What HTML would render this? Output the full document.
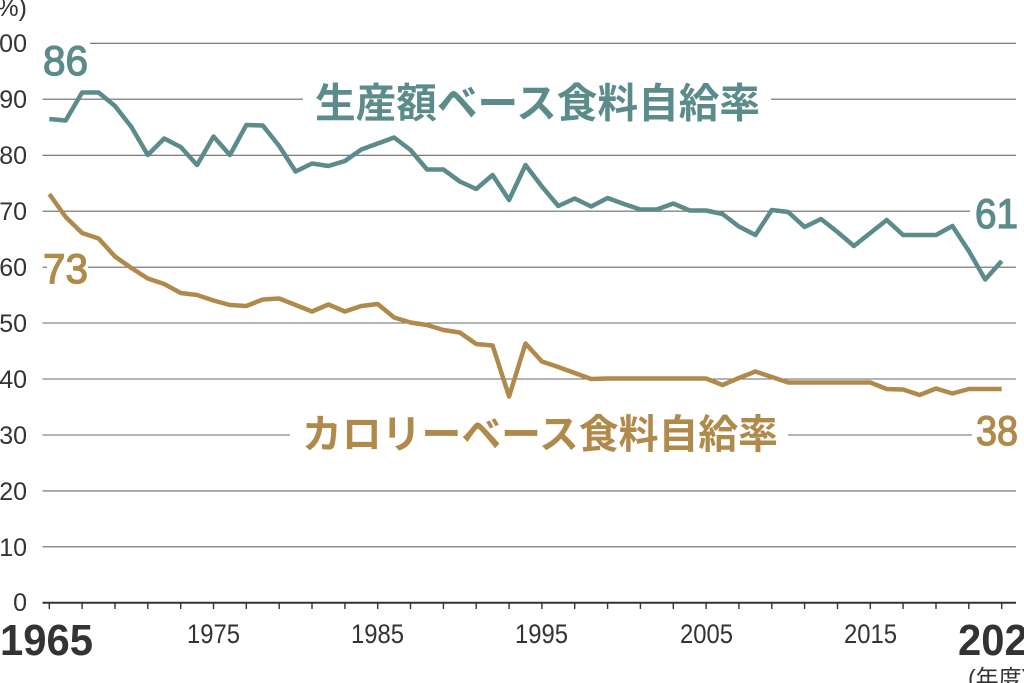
<!DOCTYPE html>
<html>
<head>
<meta charset="utf-8">
<style>
  html, body { margin:0; padding:0; background:#fff; }
  body { width:1024px; height:683px; overflow:hidden; }
  svg { display:block; }
  text { font-family: "Liberation Sans", "Noto Sans CJK JP", sans-serif; }
</style>
</head>
<body>
<svg width="1024" height="683" viewBox="0 0 1024 683" xmlns="http://www.w3.org/2000/svg">
  <rect width="1024" height="683" fill="#fff"/>
  <!-- gridlines -->
  <g stroke="#6a6a6a" stroke-width="1.1" fill="none">
    <line x1="90" y1="43.3" x2="1016" y2="43.3"/>
    <line x1="42.5" y1="99.2" x2="303" y2="99.2"/>
    <line x1="771" y1="99.2" x2="1016" y2="99.2"/>
    <line x1="42.5" y1="155.3" x2="1016" y2="155.3"/>
    <line x1="42.5" y1="211.2" x2="970" y2="211.2"/>
    <line x1="42.5" y1="267.2" x2="47" y2="267.2"/>
    <line x1="88" y1="267.2" x2="1016" y2="267.2"/>
    <line x1="42.5" y1="323" x2="1016" y2="323"/>
    <line x1="42.5" y1="379" x2="1016" y2="379"/>
    <line x1="42.5" y1="435" x2="290" y2="435"/>
    <line x1="788" y1="435" x2="972" y2="435"/>
    <line x1="42.5" y1="490.9" x2="1016" y2="490.9"/>
    <line x1="42.5" y1="546.8" x2="1016" y2="546.8"/>
  </g>
  <!-- axis -->
  <line x1="42.5" y1="602.7" x2="1016" y2="602.7" stroke="#333" stroke-width="2"/>
  <g stroke="#333" stroke-width="1.4">
    <line x1="49.3" y1="603" x2="49.3" y2="609"/>
    <line x1="82.1" y1="603" x2="82.1" y2="609"/>
    <line x1="115.0" y1="603" x2="115.0" y2="609"/>
    <line x1="147.8" y1="603" x2="147.8" y2="609"/>
    <line x1="180.7" y1="603" x2="180.7" y2="609"/>
    <line x1="213.5" y1="603" x2="213.5" y2="609"/>
    <line x1="246.3" y1="603" x2="246.3" y2="609"/>
    <line x1="279.2" y1="603" x2="279.2" y2="609"/>
    <line x1="312.0" y1="603" x2="312.0" y2="609"/>
    <line x1="344.9" y1="603" x2="344.9" y2="609"/>
    <line x1="377.7" y1="603" x2="377.7" y2="609"/>
    <line x1="410.5" y1="603" x2="410.5" y2="609"/>
    <line x1="443.4" y1="603" x2="443.4" y2="609"/>
    <line x1="476.2" y1="603" x2="476.2" y2="609"/>
    <line x1="509.1" y1="603" x2="509.1" y2="609"/>
    <line x1="541.9" y1="603" x2="541.9" y2="609"/>
    <line x1="574.7" y1="603" x2="574.7" y2="609"/>
    <line x1="607.6" y1="603" x2="607.6" y2="609"/>
    <line x1="640.4" y1="603" x2="640.4" y2="609"/>
    <line x1="673.3" y1="603" x2="673.3" y2="609"/>
    <line x1="706.1" y1="603" x2="706.1" y2="609"/>
    <line x1="738.9" y1="603" x2="738.9" y2="609"/>
    <line x1="771.8" y1="603" x2="771.8" y2="609"/>
    <line x1="804.6" y1="603" x2="804.6" y2="609"/>
    <line x1="837.5" y1="603" x2="837.5" y2="609"/>
    <line x1="870.3" y1="603" x2="870.3" y2="609"/>
    <line x1="903.1" y1="603" x2="903.1" y2="609"/>
    <line x1="936.0" y1="603" x2="936.0" y2="609"/>
    <line x1="968.8" y1="603" x2="968.8" y2="609"/>
    <line x1="1001.7" y1="603" x2="1001.7" y2="609"/>
  </g>
  <!-- y labels -->
  <g fill="#333" font-size="25" text-anchor="end">
    <text x="27" y="16">(%)</text>
    <text x="27" y="52">100</text>
    <text x="27" y="108">90</text>
    <text x="27" y="164">80</text>
    <text x="27" y="220">70</text>
    <text x="27" y="276">60</text>
    <text x="27" y="332">50</text>
    <text x="27" y="388">40</text>
    <text x="27" y="444">30</text>
    <text x="27" y="500">20</text>
    <text x="27" y="556">10</text>
    <text x="27" y="611">0</text>
  </g>
  <!-- x labels -->
  <g fill="#333" font-size="27">
    <text x="187" y="643" textLength="53" lengthAdjust="spacingAndGlyphs">1975</text>
    <text x="351" y="643" textLength="53" lengthAdjust="spacingAndGlyphs">1985</text>
    <text x="515" y="643" textLength="53" lengthAdjust="spacingAndGlyphs">1995</text>
    <text x="680" y="643" textLength="53" lengthAdjust="spacingAndGlyphs">2005</text>
    <text x="844" y="643" textLength="53" lengthAdjust="spacingAndGlyphs">2015</text>
  </g>
  <g fill="#333" font-size="44" font-weight="bold">
    <text x="0" y="655" textLength="93" lengthAdjust="spacingAndGlyphs">1965</text>
    <text x="958" y="655" textLength="93" lengthAdjust="spacingAndGlyphs">2023</text>
  </g>
  <text x="968" y="686" fill="#333" font-size="23">(年度)</text>

  <!-- series -->
  <polyline fill="none" stroke="#5c8b8b" stroke-width="4.5" stroke-linejoin="round" stroke-linecap="butt"
    points="49.3,119 65.7,120.5 82.1,92.5 98.6,92.5 115.0,106 131.4,127 147.8,155 164.2,138.5 180.7,147 197.1,165 213.5,136.5 229.9,155 246.3,125 262.8,125.5 279.2,146 295.6,171.5 312.0,163.5 328.4,166 344.9,161 361.3,149.5 377.7,143.5 394.1,137.5 410.5,150 427.0,169.5 443.4,169.5 459.8,181.5 476.2,189 492.6,175 509.1,200 525.5,165 541.9,186.5 558.3,206 574.7,198.5 591.2,206.5 607.6,198 624.0,204 640.4,209.5 656.8,209.5 673.3,203.5 689.7,210.5 706.1,210.5 722.5,214 738.9,226.5 755.4,235 771.8,210 788.2,212 804.6,227 821.0,219 837.5,232 853.9,246 870.3,233 886.7,220 903.1,235 919.6,235 936.0,235 952.4,226 968.8,251 985.2,279.5 1001.7,261"/>
  <polyline fill="none" stroke="#b08a4b" stroke-width="4.5" stroke-linejoin="round" stroke-linecap="butt"
    points="49.3,194 65.7,217 82.1,233 98.6,238.5 115.0,256.5 131.4,268 147.8,278.5 164.2,284 180.7,293 197.1,295 213.5,300.5 229.9,305 246.3,306 262.8,299.5 279.2,298.5 295.6,305 312.0,311.5 328.4,304.5 344.9,311.5 361.3,306 377.7,304 394.1,317.5 410.5,322.5 427.0,325 443.4,330 459.8,332.5 476.2,344 492.6,345.5 509.1,396.5 525.5,343.5 541.9,361.5 558.3,367 574.7,373 591.2,379 607.6,378.5 624.0,378.5 640.4,378.5 656.8,378.5 673.3,378.5 689.7,378.5 706.1,378.5 722.5,385 738.9,378 755.4,371.5 771.8,377 788.2,382.5 804.6,382.5 821.0,382.5 837.5,382.5 853.9,382.5 870.3,382.5 886.7,389 903.1,389.5 919.6,395 936.0,388.5 952.4,393.5 968.8,389 985.2,389 1001.7,389"/>

  <!-- value labels -->
  <g fill="#5c8b8b" stroke="#5c8b8b" stroke-width="1.3" font-size="42">
    <text x="43" y="75" textLength="45" lengthAdjust="spacingAndGlyphs">86</text>
    <text x="975" y="228" textLength="43" lengthAdjust="spacingAndGlyphs">61</text>
  </g>
  <g fill="#b08a4b" stroke="#b08a4b" stroke-width="1.3" font-size="42">
    <text x="43" y="283" textLength="45" lengthAdjust="spacingAndGlyphs">73</text>
    <text x="976" y="445" textLength="42" lengthAdjust="spacingAndGlyphs">38</text>
  </g>

  <!-- series name labels -->
  <text x="315" y="117.5" fill="#5c8b8b" font-size="41" font-weight="bold" textLength="445" lengthAdjust="spacingAndGlyphs" font-family="'Noto Sans CJK JP', sans-serif">生産額ベース食料自給率</text>
  <text x="302" y="448" fill="#b08a4b" font-size="40" font-weight="bold" textLength="476" lengthAdjust="spacingAndGlyphs" font-family="'Noto Sans CJK JP', sans-serif">カロリーベース食料自給率</text>
</svg>
</body>
</html>
